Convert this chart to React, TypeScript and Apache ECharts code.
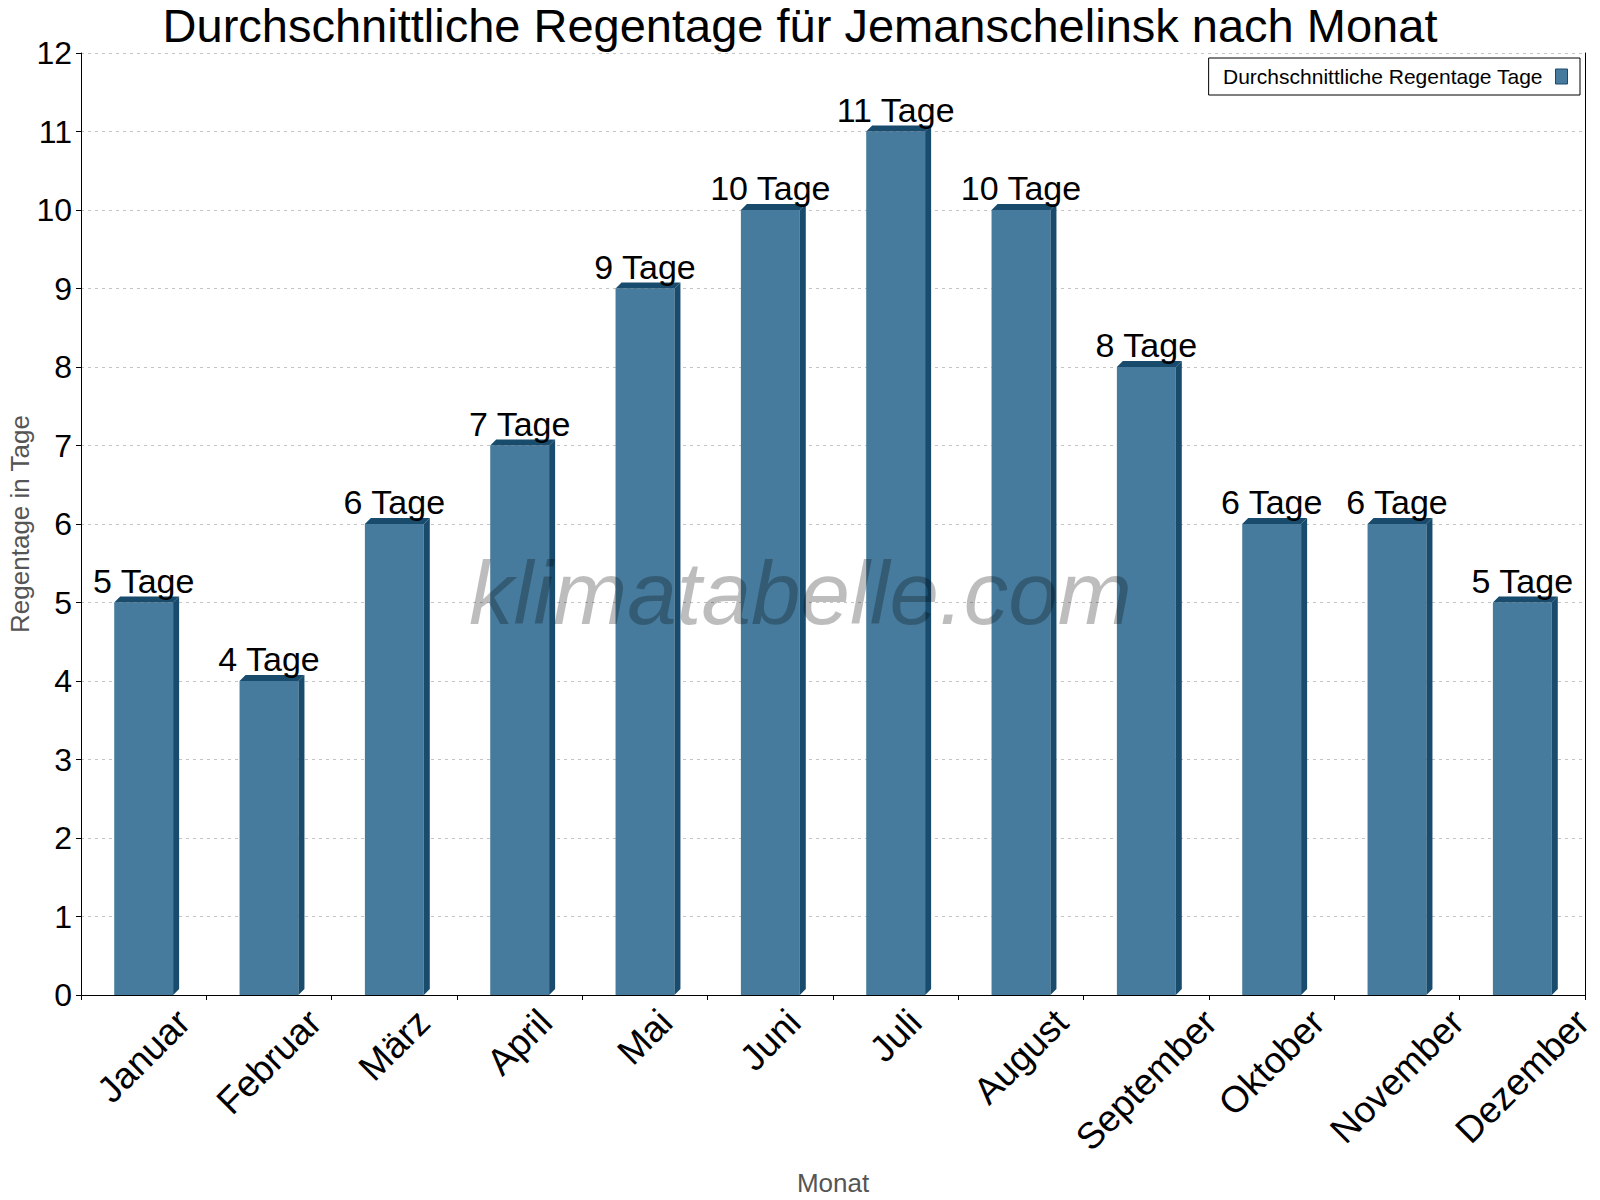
import React, { useEffect, useRef } from "react";
import * as echarts from "echarts";

const TITLE = "Durchschnittliche Regentage für Jemanschelinsk nach Monat";
const SERIES_NAME = "Durchschnittliche Regentage Tage";
const months = ["Januar", "Februar", "März", "April", "Mai", "Juni", "Juli", "August", "September", "Oktober", "November", "Dezember"];
const rainDays = [5, 4, 6, 7, 9, 10, 11, 10, 8, 6, 6, 5];
const yTicks = { min: 0, max: 12, interval: 1 };
const Y_NAME = "Regentage in Tage";
const X_NAME = "Monat";
const WATERMARK = "klimatabelle.com";

const FONT = "'Liberation Sans', Arial, sans-serif";
const FRONT = "#467b9d";
const DARK = "#184b6c";
const X_LABEL_SIZE = 37;

function measure(text: string, size: number): number {
  const c = document.createElement("canvas");
  const ctx = c.getContext("2d");
  if (!ctx) return text.length * size * 0.55;
  ctx.font = `${size}px 'Liberation Sans', Arial, sans-serif`;
  return ctx.measureText(text).width;
}

export default function App() {
  const ref = useRef<HTMLDivElement>(null);
  useEffect(() => {
    if (!ref.current) return;
    const chart = echarts.init(ref.current, null, { renderer: "svg" });
    const rich: Record<string, any> = {};
    months.forEach((m, i) => {
      const w = measure(m, X_LABEL_SIZE);
      const p = 0.5 * (w + X_LABEL_SIZE);
      rich["r" + i] = {
        fontSize: X_LABEL_SIZE,
        fontFamily: FONT,
        color: "#000",
        padding: [p, p, 0, 0],
      };
    });
    const option: any = {
      animation: false,
      backgroundColor: "#fff",
      title: {
        text: TITLE,
        left: "center",
        top: -3,
        textStyle: { fontSize: 47, fontWeight: "normal", color: "#000", fontFamily: FONT },
      },
      legend: {
        data: [SERIES_NAME],
        right: 20,
        top: 58,
        align: "right",
        icon: "rect",
        itemWidth: 12,
        itemHeight: 15,
        borderColor: "#000",
        borderWidth: 1,
        padding: [8, 12, 8, 14],
        itemStyle: { color: FRONT, borderColor: DARK, borderWidth: 1 },
        textStyle: { fontSize: 21, color: "#000", fontFamily: FONT, padding: [0, 8, 0, 0] },
      },
      grid: { left: 81, right: 15, top: 53, bottom: 205, containLabel: false, outerBoundsMode: "none" },
      xAxis: {
        type: "category",
        data: months,
        boundaryGap: true,
        name: X_NAME,
        nameLocation: "middle",
        nameGap: 175,
        nameTextStyle: { fontSize: 26, color: "#555", fontFamily: FONT },
        axisLine: { show: true, lineStyle: { color: "#000", width: 1 } },
        axisTick: { show: true, alignWithLabel: false, length: 5, lineStyle: { color: "#000" } },
        axisLabel: {
          interval: 0,
          rotate: 45,
          margin: 8,
          align: "center",
          verticalAlign: "middle",
          fontSize: X_LABEL_SIZE,
          fontFamily: FONT,
          color: "#000",
          formatter: (v: string, i: number) => `{r${i}|${v}}`,
          rich,
        },
        splitLine: { show: false },
      },
      yAxis: [
        {
          type: "value",
          min: yTicks.min,
          max: yTicks.max,
          interval: yTicks.interval,
          name: Y_NAME,
          nameLocation: "middle",
          nameGap: 48,
          nameMoveOverlap: false,
          nameTextStyle: { fontSize: 26, color: "#555", fontFamily: FONT },
          axisLine: { show: true, lineStyle: { color: "#000", width: 1 } },
          axisTick: { show: true, length: 5, lineStyle: { color: "#000" } },
          axisLabel: { fontSize: 32, color: "#000", fontFamily: FONT, margin: 9 },
          splitLine: { show: true, lineStyle: { color: "#c4c4c4", type: [3, 4], width: 1 } },
        },
        {
          type: "value",
          min: yTicks.min,
          max: yTicks.max,
          interval: yTicks.interval,
          position: "right",
          axisLine: { show: true, lineStyle: { color: "#000", width: 1 } },
          axisTick: { show: false },
          axisLabel: { show: false },
          splitLine: { show: false },
        },
      ],
      graphic: [
        {
          type: "text",
          left: 469,
          top: 548,
          z: 100,
          silent: true,
          style: {
            text: WATERMARK,
            fontSize: 89,
            fontStyle: "italic",
            fontFamily: FONT,
            fill: "rgba(0,0,0,0.26)",
          },
        },
      ],
      series: [
        {
          name: SERIES_NAME,
          type: "custom",
          itemStyle: { color: FRONT },
          encode: { x: 0, y: 1 },
          data: rainDays.map((v, i) => [i, v]),
          renderItem: (params: any, api: any) => {
            const idx = api.value(0);
            const v = api.value(1);
            const top = api.coord([idx, v]);
            const base = api.coord([idx, 0]);
            const band = api.size([1, 0])[0];
            const w = band * 0.47;
            const d = 6;
            const x0 = top[0] - w / 2;
            const x1 = x0 + w;
            return {
              type: "group",
              children: [
                {
                  type: "rect",
                  shape: { x: x0, y: top[1], width: w, height: base[1] - top[1] },
                  style: { fill: FRONT },
                },
                {
                  type: "polygon",
                  shape: { points: [[x1, top[1]], [x1 + d, top[1] - d], [x1 + d, base[1] - d], [x1, base[1]]] },
                  style: { fill: DARK },
                },
                {
                  type: "polygon",
                  shape: { points: [[x0, top[1]], [x0 + d, top[1] - d], [x1 + d, top[1] - d], [x1, top[1]]] },
                  style: { fill: DARK },
                },
                {
                  type: "text",
                  style: {
                    text: `${v} Tage`,
                    x: top[0],
                    y: top[1] - d + 1,
                    align: "center",
                    verticalAlign: "bottom",
                    fontSize: 34,
                    fontFamily: FONT,
                    fill: "#000",
                  },
                },
              ],
            };
          },
        },
      ],
    };
    chart.setOption(option);
    return () => chart.dispose();
  }, []);
  return <div ref={ref} style={{ position: "fixed", left: 0, top: 0, width: 1600, height: 1200 }} />;
}
